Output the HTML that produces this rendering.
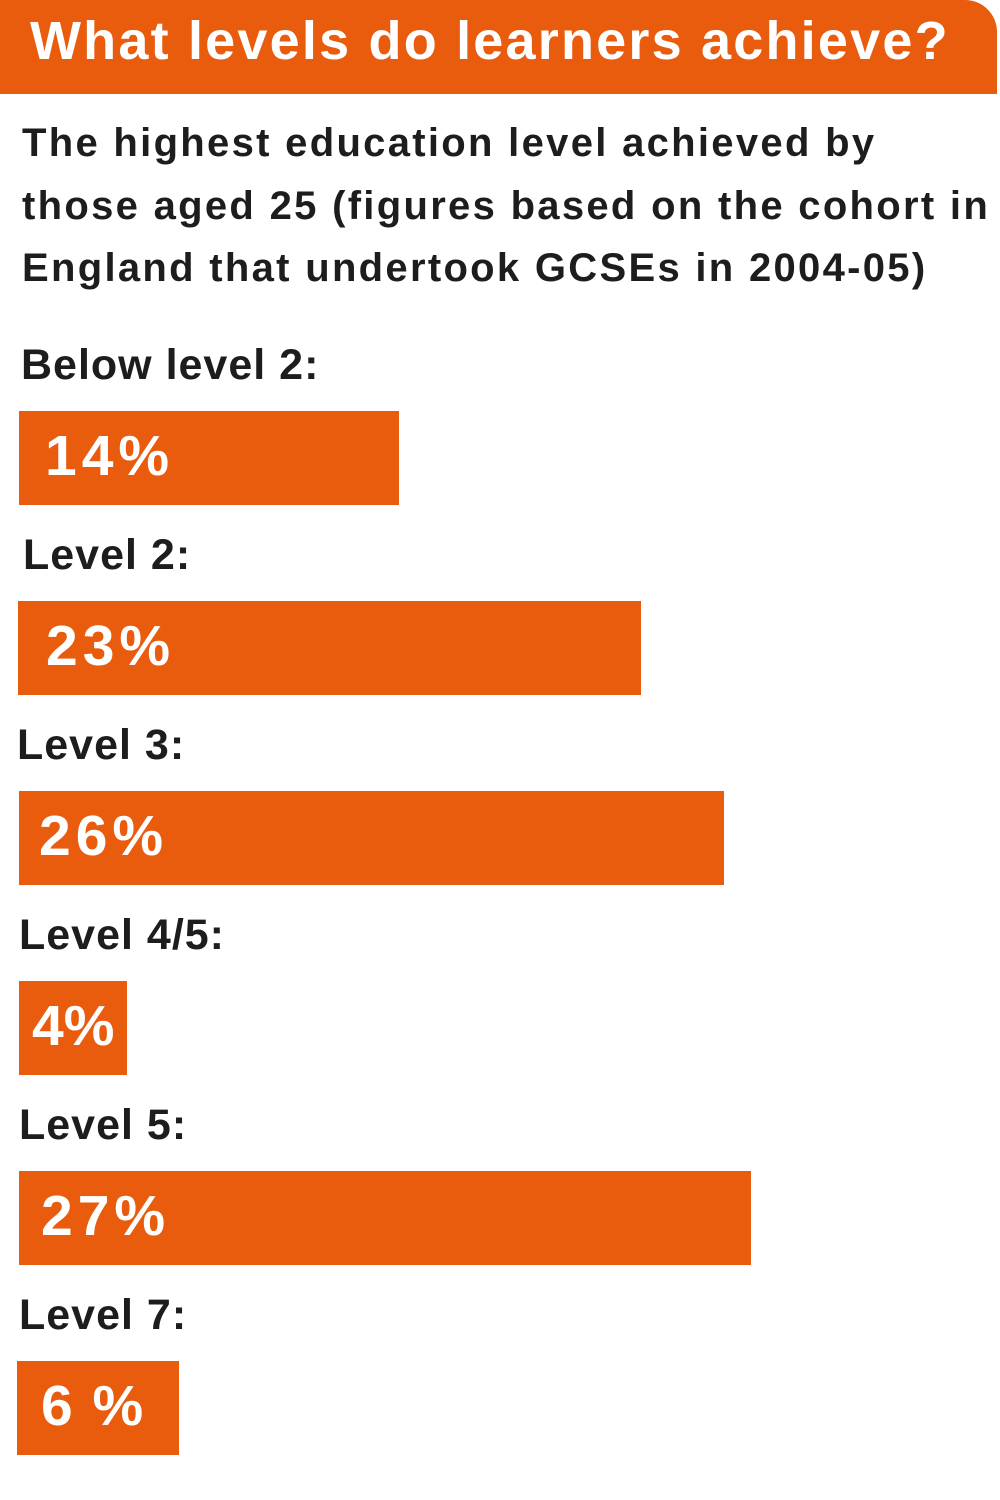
<!DOCTYPE html>
<html><head><meta charset="utf-8"><style>
body{margin:0;width:1000px;height:1500px;background:#fff;position:relative;overflow:hidden;font-family:"Liberation Sans",sans-serif;font-weight:bold;}
.hd{position:absolute;left:0;top:0;width:997px;height:94px;background:#E95C0D;border-top-right-radius:32px;}
.t{position:absolute;white-space:nowrap;}
.bar{position:absolute;background:#E95C0D;height:94px;}
.lab{position:absolute;font-size:43px;color:#1d1d1b;letter-spacing:1px;white-space:nowrap;line-height:1;}
.p{position:absolute;color:#fff;font-size:57px;line-height:1;white-space:nowrap;letter-spacing:5px;}
</style></head><body>
<div class="hd"></div>
<div class="t" style="left:30px;top:14px;font-size:54px;color:#fff;line-height:1;letter-spacing:2.2px">What levels do learners achieve?</div>
<div class="t" style="left:22px;top:112px;font-size:40px;color:#1d1d1b;line-height:62.5px;letter-spacing:2.3px">The highest education level achieved by<br>those aged 25 (figures based on the cohort in<br>England that undertook GCSEs in 2004-05)</div>

<div class="lab" style="left:21px;top:344px">Below level 2:</div>
<div class="bar" style="left:19px;top:411px;width:380px"></div>
<div class="p" style="left:45px;top:428px">14%</div>

<div class="lab" style="left:23px;top:534px">Level 2:</div>
<div class="bar" style="left:18px;top:601px;width:623px"></div>
<div class="p" style="left:46px;top:618px">23%</div>

<div class="lab" style="left:17px;top:724px">Level 3:</div>
<div class="bar" style="left:19px;top:791px;width:705px"></div>
<div class="p" style="left:39px;top:808px">26%</div>

<div class="lab" style="left:19px;top:914px">Level 4/5:</div>
<div class="bar" style="left:19px;top:981px;width:108px"></div>
<div class="p" style="left:32px;top:998px;letter-spacing:0px">4%</div>

<div class="lab" style="left:19px;top:1104px">Level 5:</div>
<div class="bar" style="left:19px;top:1171px;width:732px"></div>
<div class="p" style="left:41px;top:1188px">27%</div>

<div class="lab" style="left:19px;top:1294px">Level 7:</div>
<div class="bar" style="left:17px;top:1361px;width:162px"></div>
<div class="p" style="left:41px;top:1378px;letter-spacing:2px">6 %</div>
</body></html>
